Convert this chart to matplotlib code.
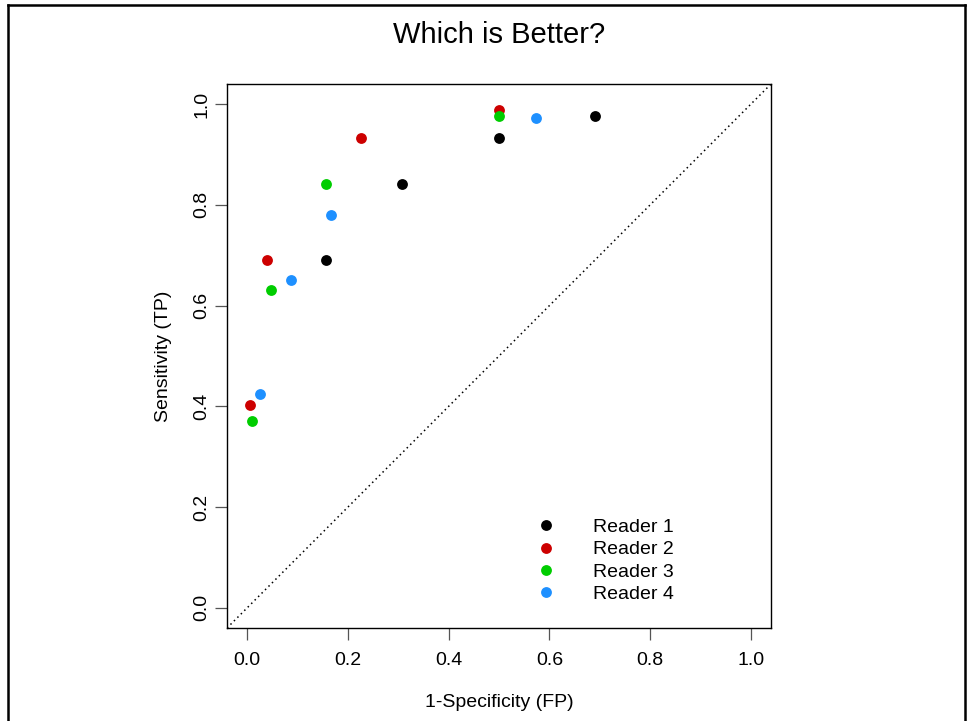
import matplotlib
matplotlib.use('Agg')
import matplotlib.pyplot as plt
from matplotlib.lines import Line2D

plt.rcParams['font.family'] = ['Liberation Sans', 'DejaVu Sans']

# ROC operating points for each reader: false positive rate and true positive rate
readers = ['Reader 1', 'Reader 2', 'Reader 3', 'Reader 4']
colors = ['#000000', '#CD0000', '#00CD00', '#1E90FF']

fp_r1 = [0.157, 0.307, 0.500, 0.690]
tp_r1 = [0.691, 0.841, 0.933, 0.977]
fp_r2 = [0.005, 0.039, 0.226, 0.500]
tp_r2 = [0.402, 0.691, 0.933, 0.989]
fp_r3 = [0.009, 0.047, 0.157, 0.500]
tp_r3 = [0.370, 0.631, 0.841, 0.977]
fp_r4 = [0.026, 0.088, 0.167, 0.574]
tp_r4 = [0.425, 0.650, 0.779, 0.972]

fp_all = [fp_r1, fp_r2, fp_r3, fp_r4]
tp_all = [tp_r1, tp_r2, tp_r3, tp_r4]

ticks = [0.0, 0.2, 0.4, 0.6, 0.8, 1.0]
tick_labels = ['0.0', '0.2', '0.4', '0.6', '0.8', '1.0']

W, H = 967, 721
fig = plt.figure(figsize=(W / 100, H / 100), dpi=100)
ax = fig.add_axes([227 / W, 1 - 628 / H, 544 / W, 544 / H])

for fp, tp, c, name in zip(fp_all, tp_all, colors, readers):
    ax.plot(fp, tp, 'o', color=c, markersize=7.8, markeredgewidth=0, label=name)

# chance line
ax.axline((0, 0), slope=1, color='black', linestyle=(0, (1, 2.2)), linewidth=1.1)

ax.set_xlim(-0.04, 1.04)
ax.set_ylim(-0.04, 1.04)
ax.set_xticks(ticks)
ax.set_xticklabels(tick_labels)
ax.set_yticks(ticks)
ax.set_yticklabels(tick_labels, rotation=90, va='center')
ax.tick_params(direction='out', length=8.6, width=0.9, labelsize=14, color='#555555')
ax.tick_params(axis='x', pad=9)
ax.tick_params(axis='y', pad=3.5)
for s in ax.spines.values():
    s.set_linewidth(1.0)

ax.set_xlabel('1-Specificity (FP)', fontsize=14, labelpad=17.6)
ax.set_ylabel('Sensitivity (TP)', fontsize=14, labelpad=15.5)

fig.text(499 / W, 1 - 35 / H, 'Which is Better?', fontsize=21, ha='center', va='center')

ax.legend(loc='upper left', bbox_to_anchor=(0.5686, 0.201), frameon=False, fontsize=14,
          handlelength=1.0, handletextpad=1.94, labelspacing=0.235, borderpad=0,
          borderaxespad=0)

# outer frame
lw = 1.8
fig.add_artist(Line2D([7.8 / W, 7.8 / W], [0, 1 - 5.2 / H], transform=fig.transFigure,
                      color='black', linewidth=lw))
fig.add_artist(Line2D([965 / W, 965 / W], [0, 1 - 5.2 / H], transform=fig.transFigure,
                      color='black', linewidth=lw))
fig.add_artist(Line2D([7.8 / W, 965 / W], [1 - 5.2 / H, 1 - 5.2 / H], transform=fig.transFigure,
                      color='black', linewidth=lw, solid_capstyle='projecting'))

fig.savefig('out.png', dpi=100)
